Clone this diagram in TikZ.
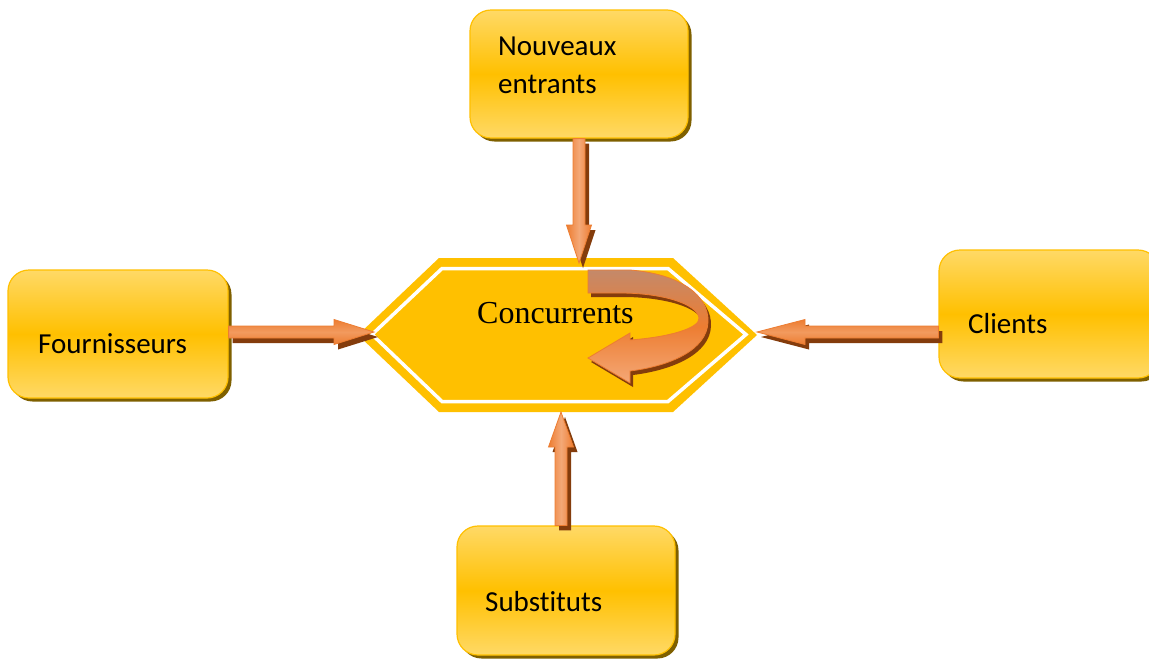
\documentclass[tikz,border=0pt]{standalone}
\usepackage{fontspec}
\setmainfont{Carlito}[Ligatures=NoCommon]
\newfontfamily\timesfont{Liberation Serif}
\usetikzlibrary{calc,shadows}

\definecolor{gold}{HTML}{FFC000}
\definecolor{goldlight}{HTML}{FFD966}
\definecolor{goldshadow}{HTML}{7F6000}
\definecolor{arroworange}{HTML}{ED7D31}
\definecolor{arrowmid}{HTML}{F29A5E}
\definecolor{arrowlight}{HTML}{F4A877}
\definecolor{arrowshadow}{HTML}{843C0C}
\definecolor{ribbontop}{HTML}{C4896A}

\tikzset{
  box/.style={rounded corners=21pt, draw=gold, line width=1.2pt,
    top color=goldlight, bottom color=goldlight, middle color=gold,
    drop shadow={shadow xshift=3.5pt, shadow yshift=-3.5pt, fill=goldshadow, opacity=1}},
  lbl/.style={inner sep=0pt, anchor=base west, font=\fontsize{29}{35}\selectfont},
  arrowshade/.style={draw=arroworange, line width=0.8pt, line join=miter,
    drop shadow={shadow xshift=4pt, shadow yshift=-5pt, fill=arrowshadow, opacity=1}},
  harrow/.style={arrowshade, top color=arroworange, bottom color=arroworange, middle color=arrowmid},
  varrow/.style={arrowshade, left color=arroworange, right color=arroworange, middle color=arrowlight},
}

% block arrow: #1 style, #2 start, #3 tip, #4 head length
\newcommand\blockarrow[4]{%
  \coordinate (hb) at ($(#3)!#4!(#2)$);
  \path[#1] ($(#2)!6pt!90:(#3)$) -- ($(hb)!6pt!-90:(#2)$) -- ($(hb)!12.5pt!-90:(#2)$)
    -- (#3) -- ($(hb)!12.5pt!90:(#2)$) -- ($(hb)!6pt!90:(#2)$) -- ($(#2)!6pt!-90:(#3)$) -- cycle;
}

\begin{document}
\begin{tikzpicture}[x=1pt, y=-1pt]
\clip (0,0) rectangle (1149,659);
\fill[white] (0,0) rectangle (1149,659);

% central hexagon
\coordinate (hL) at (358,335);
\coordinate (hTL) at (439,258);
\coordinate (hTR) at (673,258);
\coordinate (hR) at (757,335);
\coordinate (hBR) at (673,412);
\coordinate (hBL) at (439,412);
\fill[gold] (hL) -- (hTL) -- (hTR) -- (hR) -- (hBR) -- (hBL) -- cycle;
\draw[white, line width=3.5pt, line join=miter]
  (372,334.5) -- (442,268.5) -- (668,268.5) -- (746,334.5) -- (668,401.5) -- (442,401.5) -- cycle;

% surrounding boxes
\node[box, minimum width=218pt, minimum height=128pt] (nouv) at (579,74) {};
\node[box, minimum width=220pt, minimum height=128pt] (four) at (118,334) {};
\node[box, minimum width=220pt, minimum height=128pt] (cli) at (1049,314) {};
\node[box, minimum width=218pt, minimum height=129pt] (subst) at (566,590.5) {};

\node[lbl] (nouvA) at (498,55) {Nouveaux};
\node[lbl] (nouvB) at (498,93) {entrants};
\node[lbl] (fourT) at (38,353) {Fournisseurs};
\node[lbl] (cliT) at (968,333) {Clients};
\node[lbl] (substT) at (485,611) {Substituts};

% arrow tips on the hexagon
\coordinate (tTop) at (579,263);
\coordinate (tBot) at (561,412);
\coordinate (tLeft) at (374,332);
\coordinate (tRight) at (757,332);

\blockarrow{varrow}{tTop |- nouv.south}{tTop}{38pt}
\blockarrow{varrow}{tBot |- subst.north}{tBot}{35pt}
\blockarrow{harrow}{tLeft -| four.east}{tLeft}{40pt}
\blockarrow{harrow}{tRight -| cli.west}{tRight}{48pt}

% U-turn arrow inside the hexagon
\path[draw=arroworange, line width=0.8pt, line join=miter,
      top color=ribbontop, bottom color=arrowlight, middle color=arroworange,
      drop shadow={shadow xshift=3pt, shadow yshift=-4pt, fill=arrowshadow, opacity=1}]
  (588,270) -- (630,270) .. controls (680,274) and (709,295) .. (708,322)
  .. controls (707,350) and (670,366) .. (630,371) -- (630,383) -- (588,358)
  -- (630,333) -- (630,340) .. controls (670,337) and (700,328) .. (699,318)
  .. controls (697,303) and (660,293) .. (620,293) -- (588,293) -- cycle;

\node[inner sep=0pt, anchor=base west, font=\timesfont\fontsize{32}{38}\selectfont]
  (conc) at (477,323) {Concurrents};
\end{tikzpicture}
\end{document}
